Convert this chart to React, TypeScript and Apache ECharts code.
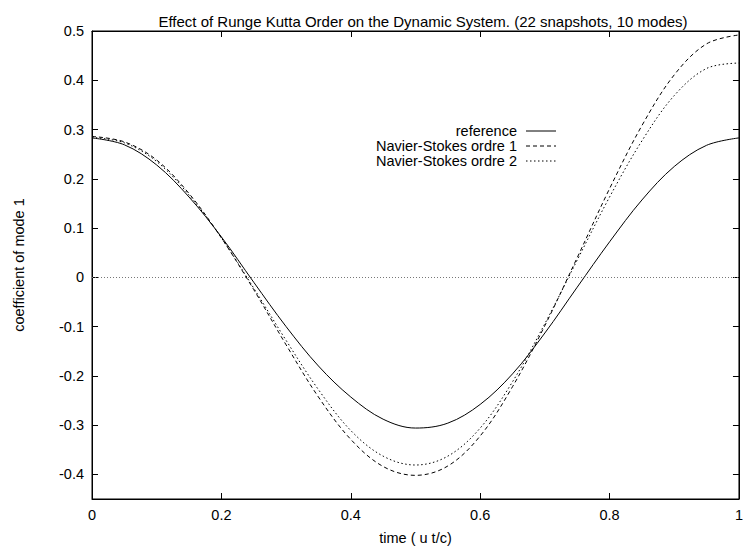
import React, { useEffect, useRef } from "react";
import * as echarts from "echarts";

const times = [0, 0.05, 0.1, 0.15, 0.2, 0.25, 0.3, 0.35, 0.4, 0.45, 0.5, 0.55, 0.6, 0.65, 0.7, 0.75, 0.8, 0.85, 0.9, 0.95, 1.0];
const referenceValues = [0.283, 0.269, 0.228, 0.163, 0.082, -0.01, -0.1, -0.18, -0.243, -0.288, -0.306, -0.296, -0.258, -0.196, -0.113, -0.02, 0.072, 0.157, 0.225, 0.268, 0.283];
const ordre1Values = [0.286, 0.275, 0.238, 0.17, 0.08, -0.025, -0.137, -0.243, -0.329, -0.384, -0.402, -0.383, -0.322, -0.222, -0.098, 0.04, 0.18, 0.308, 0.411, 0.474, 0.492];
const ordre2Values = [0.284, 0.273, 0.235, 0.167, 0.08, -0.022, -0.128, -0.228, -0.311, -0.363, -0.381, -0.363, -0.306, -0.212, -0.094, 0.035, 0.163, 0.277, 0.369, 0.424, 0.435];
const yTickValues = [-0.4, -0.3, -0.2, -0.1, 0, 0.1, 0.2, 0.3, 0.4, 0.5];
const seriesNames = ["reference", "Navier-Stokes ordre 1", "Navier-Stokes ordre 2"];
const titleText = "Effect of Runge Kutta Order on the Dynamic System. (22 snapshots, 10 modes)";
const xName = "time ( u t/c)";
const yName = "coefficient of mode 1";

const FONT = "Liberation Sans, Arial, sans-serif";
const FS = 14.5;

const fmt = (v: number) => String(Math.round(v * 10) / 10);

export default function App() {
  const ref = useRef<HTMLDivElement>(null);
  useEffect(() => {
    if (!ref.current) return;
    const chart = echarts.init(ref.current, undefined, { renderer: "svg" });
    const pairs = (vals: number[]) => times.map((t, i) => [t, vals[i]]);
    const dashTypes: any[] = ["solid", [4, 3], [1.5, 2.5]];
    const allVals = [referenceValues, ordre1Values, ordre2Values];

    const legendY = [131, 146, 161];
    const graphics: any[] = [];
    seriesNames.forEach((name, i) => {
      graphics.push({
        type: "text",
        x: 517,
        y: legendY[i],
        style: { text: name, fill: "#000", font: `${FS}px ${FONT}`, textAlign: "right", textVerticalAlign: "middle" },
      });
      graphics.push({
        type: "line",
        shape: { x1: 526, y1: legendY[i], x2: 556, y2: legendY[i] },
        style: { stroke: "#000", lineWidth: 1, lineDash: i === 0 ? null : dashTypes[i] },
      });
    });

    const tickStyle = { show: true, inside: true, length: 6, lineStyle: { color: "#000", width: 1 } };
    const lineStyle = { show: true, onZero: false, lineStyle: { color: "#000", width: 1 } };

    chart.setOption({
      animation: false,
      backgroundColor: "#fff",
      title: {
        text: titleText,
        left: 418,
        top: 9,
        textAlign: "center",
        textStyle: { fontFamily: FONT, fontSize: 15, fontWeight: "normal", color: "#000" },
      },
      grid: { left: 92, right: 1, top: 31, bottom: 42, containLabel: false, show: true, borderColor: "#000", borderWidth: 1, backgroundColor: "transparent" },
      xAxis: [
        {
          type: "value",
          position: "bottom",
          min: 0,
          max: 1,
          interval: 0.2,
          axisLine: lineStyle,
          axisTick: tickStyle,
          splitLine: { show: false },
          name: xName,
          nameLocation: "middle",
          nameGap: 31,
          nameTextStyle: { fontFamily: FONT, fontSize: FS, color: "#000" },
          axisLabel: { color: "#000", fontFamily: FONT, fontSize: FS, margin: 8, formatter: fmt },
        },
        {
          type: "value",
          position: "top",
          min: 0,
          max: 1,
          interval: 0.2,
          axisLine: lineStyle,
          axisTick: tickStyle,
          splitLine: { show: false },
          axisLabel: { show: false },
        },
      ],
      yAxis: [
        {
          type: "value",
          position: "left",
          min: -0.45,
          max: 0.5,
          axisLine: lineStyle,
          splitLine: { show: false },
          name: yName,
          nameLocation: "middle",
          nameGap: 66,
          nameTextStyle: { fontFamily: FONT, fontSize: FS, color: "#000" },
          axisTick: { ...tickStyle, customValues: yTickValues },
          axisLabel: { color: "#000", fontFamily: FONT, fontSize: FS, margin: 8, formatter: fmt, customValues: yTickValues },
        },
        {
          type: "value",
          position: "right",
          min: -0.45,
          max: 0.5,
          axisLine: lineStyle,
          splitLine: { show: false },
          axisTick: { ...tickStyle, customValues: yTickValues },
          axisLabel: { show: false, customValues: yTickValues },
        },
      ],
      graphic: graphics,
      series: seriesNames.map((name, i) => ({
        name,
        type: "line",
        xAxisIndex: 0,
        yAxisIndex: 0,
        data: pairs(allVals[i]),
        smooth: 0.35,
        showSymbol: false,
        symbol: "none",
        lineStyle: { color: "#000", width: 1, type: dashTypes[i] },
        z: 3,
        markLine:
          i === 0
            ? {
                silent: true,
                symbol: "none",
                label: { show: false },
                lineStyle: { color: "#777", width: 1, type: [1, 2] },
                data: [{ yAxis: 0 }],
              }
            : undefined,
      })),
    });
    return () => chart.dispose();
  }, []);
  return <div ref={ref} style={{ position: "fixed", left: 0, top: 0, width: 746, height: 550 }} />;
}
